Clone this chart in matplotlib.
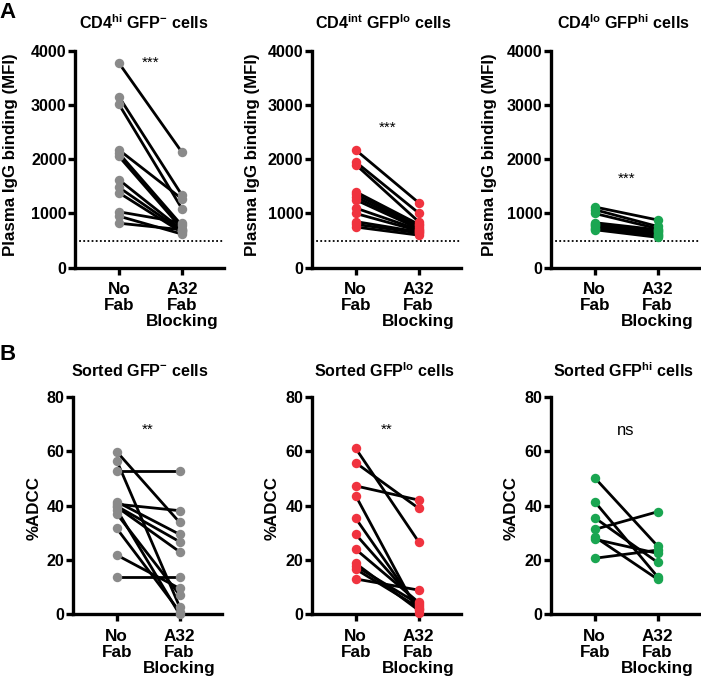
import matplotlib
matplotlib.use("Agg")
import matplotlib.pyplot as plt

plt.rcParams['font.family'] = ['Liberation Sans', 'DejaVu Sans']
plt.rcParams['mathtext.fontset'] = 'custom'
plt.rcParams['mathtext.rm'] = 'Liberation Sans:bold'
plt.rcParams['mathtext.bf'] = 'Liberation Sans:bold'
plt.rcParams['mathtext.it'] = 'Liberation Sans:bold'
plt.rcParams['mathtext.default'] = 'bf'

# ---------------- data ----------------
categories = ["No\nFab", "A32\nFab\nBlocking"]

a1_nofab = [3770, 3150, 3010, 2170, 2110, 2050, 1620, 1480, 1380, 1030, 950, 820]
a1_a32 = [2130, 1340, 1090, 1270, 780, 720, 700, 680, 650, 830, 620, 700]

a2_nofab = [2170, 1950, 1900, 1400, 1350, 1300, 1250, 1100, 1000, 850, 800, 750]
a2_a32 = [1200, 1010, 850, 800, 780, 750, 720, 700, 680, 660, 640, 600]

a3_nofab = [1120, 1070, 1000, 830, 800, 780, 760, 740, 720, 700]
a3_a32 = [880, 760, 720, 700, 680, 650, 630, 610, 580, 560]

b1_nofab = [59.8, 56.5, 52.7, 41.4, 40.5, 39.8, 39.5, 37.0, 31.6, 21.8, 13.8, 38.5]
b1_a32 = [33.8, 2.8, 52.7, 29.4, 38.1, 26.7, 23.0, 7.1, 1.0, 9.5, 13.8, 0.0]

b2_nofab = [61.0, 55.7, 47.2, 43.6, 35.3, 29.4, 23.9, 18.7, 17.7, 16.6, 13.0]
b2_a32 = [26.7, 39.0, 42.0, 0.5, 2.0, 3.2, 4.4, 1.5, 3.8, 2.5, 8.9]

b3_nofab = [50.2, 41.4, 35.5, 31.2, 28.5, 27.6, 20.6]
b3_a32 = [25.1, 13.8, 19.1, 37.7, 12.9, 22.4, 23.6]

titles = [r"CD4$^{hi}$ GFP$^{-}$ cells", r"CD4$^{int}$ GFP$^{lo}$ cells", r"CD4$^{lo}$ GFP$^{hi}$ cells",
          r"Sorted GFP$^{-}$ cells", r"Sorted GFP$^{lo}$ cells", r"Sorted GFP$^{hi}$ cells"]
sig_labels = ["***", "***", "***", "**", "**", "ns"]
sig_y = [3780, 2580, 1635, 67.7, 68, 67.5]
ylabels = ["Plasma IgG binding (MFI)"] * 3 + ["%ADCC"] * 3
top_ticks = [0, 1000, 2000, 3000, 4000]
bottom_ticks = [0, 20, 40, 60, 80]
threshold = 500

gray = "#8a8a8a"
red = "#f0333f"
green = "#1aa651"

W, H = 701, 683
fig = plt.figure(figsize=(W / 100, H / 100), dpi=100)

def fx(px):
    return px / W

def fy(py):
    return 1 - py / H

xl = (-0.70, 1.67)
axw = 149

panels = [
    (75.0, 50.7, 267.7, a1_nofab, a1_a32, gray),
    (311.7, 50.7, 267.7, a2_nofab, a2_a32, red),
    (550.7, 50.7, 267.7, a3_nofab, a3_a32, green),
    (72.7, 396.7, 614.3, b1_nofab, b1_a32, gray),
    (311.7, 396.7, 614.3, b2_nofab, b2_a32, red),
    (550.7, 396.7, 614.3, b3_nofab, b3_a32, green),
]
title_pos = [(143.5, 23), (383, 23), (623, 23), (140, 371), (384, 371), (623.5, 371)]
ylabel_pos = [(11, 155), (252, 155), (490, 155), (34, 508), (272, 508), (511, 508)]

for i, (left, top, bottom, nf, a32, col) in enumerate(panels):
    ax = fig.add_axes([fx(left), fy(bottom), axw / W, (bottom - top) / H])
    for v0, v1 in zip(nf, a32):
        ax.plot([0, 1], [v0, v1], color="black", lw=2.0, zorder=2, clip_on=False,
                solid_capstyle='butt')
    ax.plot([0] * len(nf), nf, 'o', color=col, ms=6.8, mec='none', zorder=3, clip_on=False)
    ax.plot([1] * len(a32), a32, 'o', color=col, ms=6.8, mec='none', zorder=3, clip_on=False)
    ax.set_xlim(*xl)
    if i < 3:
        ax.set_ylim(0, 4000)
        ax.set_yticks(top_ticks)
        ax.axhline(threshold, color="black", lw=1.3, ls=(0, (1, 1.3)), zorder=1)
    else:
        ax.set_ylim(0, 80)
        ax.set_yticks(bottom_ticks)
    ax.set_xticks([0, 1])
    ax.set_xticklabels(categories, fontsize=12.3, fontweight='bold', linespacing=1.08)
    for lab in ax.get_yticklabels():
        lab.set_fontweight('bold')
        lab.set_fontsize(11.6)
    for s in ['top', 'right']:
        ax.spines[s].set_visible(False)
    for s in ['left', 'bottom']:
        ax.spines[s].set_linewidth(2.4)
    ax.tick_params(width=2.4, length=5, pad=1)
    ax.tick_params(axis='x', pad=5.5)
    ax.text(0.5, sig_y[i], sig_labels[i], ha='center', va='center',
            fontsize=12 if sig_labels[i] == 'ns' else 11, fontweight='normal')
    fig.text(fx(title_pos[i][0]), fy(title_pos[i][1]), titles[i], ha='center', va='center',
             fontsize=11.6, fontweight='bold')
    fig.text(fx(ylabel_pos[i][0]), fy(ylabel_pos[i][1]), ylabels[i], ha='center', va='center',
             rotation=90, fontsize=12.2, fontweight='bold')

fig.text(fx(8), fy(12), "A", ha='center', va='center', fontsize=16, fontweight='bold')
fig.text(fx(8), fy(355), "B", ha='center', va='center', fontsize=16, fontweight='bold')

fig.savefig("out.png", dpi=100)
